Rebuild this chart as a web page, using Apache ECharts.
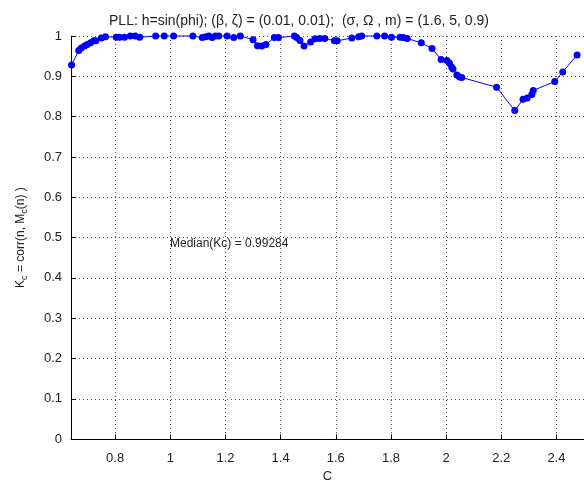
<!DOCTYPE html>
<html>
<head>
<meta charset="utf-8">
<script src="https://cdn.jsdelivr.net/npm/echarts@6/dist/echarts.min.js"></script>
<style>
  html, body { margin: 0; padding: 0; background: #fff; }
  #chart { width: 584px; height: 488px; }
</style>
</head>
<body>
<div id="chart"></div>
<script>
// Loop coupling parameter C against the correlation coefficient Kc
const cValues = [
  0.642, 0.668, 0.677, 0.689, 0.699, 0.711, 0.723, 0.730, 0.750, 0.765,
  0.804, 0.816, 0.834, 0.855, 0.873, 0.889, 0.947, 0.978, 1.012, 1.082,
  1.116, 1.129, 1.140, 1.152, 1.164, 1.176, 1.206, 1.230, 1.254, 1.300,
  1.316, 1.332, 1.347, 1.377, 1.392, 1.450, 1.458, 1.470, 1.485, 1.509,
  1.525, 1.542, 1.560, 1.595, 1.605, 1.658, 1.683, 1.694, 1.749, 1.777,
  1.802, 1.833, 1.845, 1.859, 1.910, 1.949, 1.982, 2.003, 2.012, 2.020,
  2.025, 2.039, 2.049, 2.057, 2.183, 2.249, 2.279, 2.294, 2.311, 2.316,
  2.394, 2.423, 2.475
];
const kcValues = [
  0.928, 0.964, 0.970, 0.975, 0.979, 0.983, 0.988, 0.988, 0.995, 0.998,
  0.997, 0.997, 0.997, 1.000, 1.000, 0.997, 1.000, 1.000, 1.000, 1.000,
  0.996, 0.998, 1.000, 0.996, 1.000, 1.000, 1.000, 0.996, 1.000, 0.991,
  0.976, 0.975, 0.979, 0.996, 0.996, 1.000, 0.996, 0.989, 0.975, 0.985,
  0.993, 0.994, 0.994, 0.988, 0.988, 0.995, 0.998, 1.000, 1.000, 1.000,
  0.997, 0.997, 0.996, 0.994, 0.983, 0.969, 0.942, 0.939, 0.933, 0.923,
  0.918, 0.903, 0.898, 0.897, 0.873, 0.815, 0.843, 0.846, 0.855, 0.865,
  0.887, 0.911, 0.953
];
const xTicks = [0.8, 1, 1.2, 1.4, 1.6, 1.8, 2, 2.2, 2.4];
const titleText = 'PLL: h=sin(phi); (\u03B2, \u03B6) = (0.01, 0.01);  (\u03C3, \u03A9 , m) = (1.6, 5, 0.9)';
const medianText = 'Median(Kc) = 0.99284';

const font = '"Liberation Sans", Arial, Helvetica, sans-serif';
const textColor = '#222';
const gridLine = { show: true, lineStyle: { color: '#555', width: 1, type: [1, 3] } };

const chart = echarts.init(document.getElementById('chart'), null, { renderer: 'canvas' });
chart.setOption({
  animation: false,
  backgroundColor: '#fff',
  title: {
    text: titleText,
    left: 294, top: 9, textAlign: 'center',
    textStyle: { fontFamily: font, fontSize: 14, fontWeight: 'normal', color: textColor }
  },
  grid: { left: 71, top: 36, bottom: 45, right: -4, containLabel: false },
  xAxis: {
    type: 'value', min: 0.64, max: 2.5,
    name: 'C', nameLocation: 'middle', nameGap: 30,
    nameTextStyle: { fontFamily: font, fontSize: 13, color: textColor },
    axisLine: { show: true, onZero: false, lineStyle: { color: '#000', width: 1 } },
    axisTick: { show: true, inside: true, length: 5, customValues: xTicks, lineStyle: { color: '#000' } },
    axisLabel: { customValues: xTicks, margin: 13, fontFamily: font, fontSize: 13, color: textColor },
    splitLine: gridLine
  },
  yAxis: {
    type: 'value', min: 0, max: 1, interval: 0.1,
    name: 'K{s|c} = corr(n, M{s|c}(n) )', nameLocation: 'middle', nameGap: 42, nameRotate: 90,
    nameTextStyle: {
      fontFamily: font, fontSize: 12, color: textColor,
      rich: { s: { fontFamily: font, fontSize: 9, color: textColor, padding: [8, 0, 0, 0] } }
    },
    axisLine: { show: true, onZero: false, lineStyle: { color: '#000', width: 1 } },
    axisTick: { show: true, inside: true, length: 5, lineStyle: { color: '#000' } },
    axisLabel: { margin: 9, fontFamily: font, fontSize: 13, color: textColor },
    splitLine: gridLine
  },
  graphic: [{
    type: 'text', left: 170, top: 238,
    style: { text: medianText, font: '12px ' + font, fill: textColor }
  }],
  series: [{
    type: 'line',
    data: cValues.map((c, i) => [c, kcValues[i]]),
    symbol: 'circle', symbolSize: 7, showAllSymbol: true,
    lineStyle: { color: '#0000ff', width: 1 },
    itemStyle: { color: '#0000ff' },
    clip: false
  }]
});
</script>
</body>
</html>
